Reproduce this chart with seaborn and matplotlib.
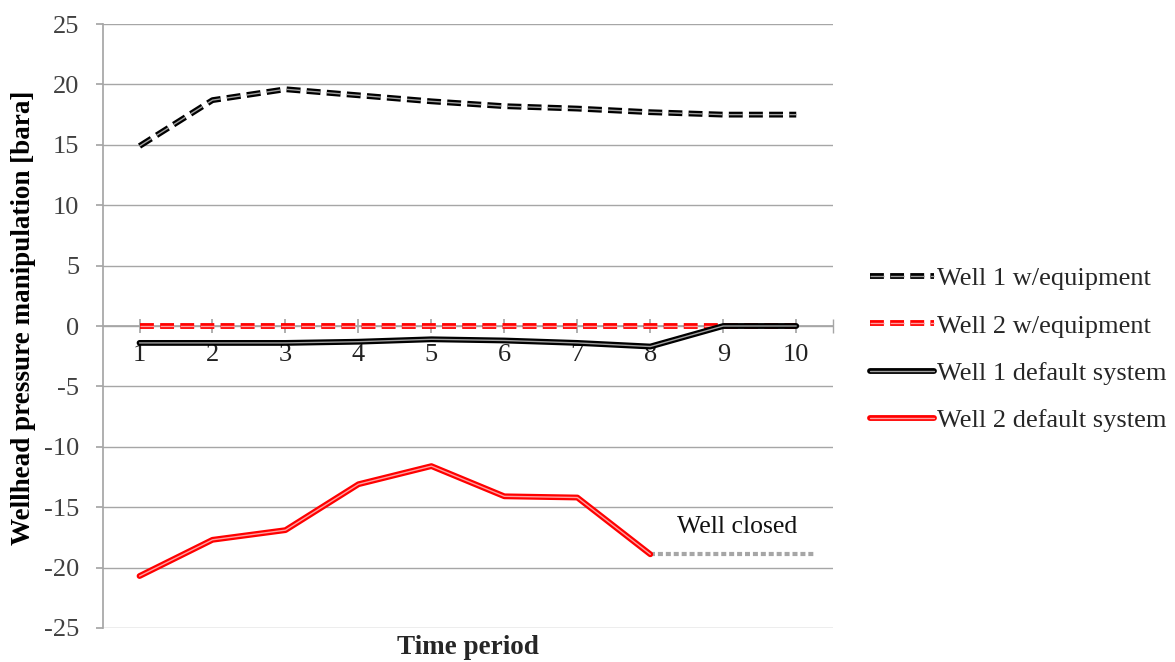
import numpy as np
import pandas as pd
import matplotlib
matplotlib.use("Agg")
import matplotlib.pyplot as plt
import matplotlib.patheffects as pe
from matplotlib.lines import Line2D
import seaborn as sns

periods = [1, 2, 3, 4, 5, 6, 7, 8, 9, 10]
well1_equipment = [14.9, 18.7, 19.6, 19.1, 18.6, 18.2, 18.0, 17.7, 17.5, 17.5]
well2_equipment = [0, 0, 0, 0, 0, 0, 0, 0, 0, 0]
well1_default = [-1.4, -1.4, -1.4, -1.3, -1.1, -1.2, -1.4, -1.7, 0, 0]
well2_default = [-20.7, -17.7, -16.9, -13.1, -11.6, -14.1, -14.2, -18.9, np.nan, np.nan]
closed_x = [8, 10.25]
closed_y = [-18.9, -18.9]
y_ticks = [-25, -20, -15, -10, -5, 0, 5, 10, 15, 20, 25]

sns.set_theme(style="white")
plt.rcParams['font.family'] = ['Liberation Serif', 'DejaVu Serif']

fig = plt.figure(figsize=(11.75, 6.62), dpi=100)
ax = fig.add_axes([0.0877, 0.0514, 0.621, 0.9123])

grid_c = '#A6A6A6'
dash = (0, (10, 4.5))
series = [
    ("Well 1 w/equipment", well1_equipment, 'black', dash, '#a0a0a0'),
    ("Well 2 w/equipment", well2_equipment, '#FF0000', dash, '#ffa0a0'),
    ("Well 1 default system", well1_default, 'black', '-', '#a0a0a0'),
    ("Well 2 default system", well2_default, '#FF0000', '-', '#ffa0a0'),
]

# axes styling first (spine repositioning resets ticks)
for s in ['top', 'right']:
    ax.spines[s].set_visible(False)
ax.spines['left'].set_color(grid_c)
ax.spines['bottom'].set_color(grid_c)
ax.spines['bottom'].set_position(('data', 0))
ax.spines['bottom'].set_zorder(1)

# closed well dotted line
ax.plot(closed_x, closed_y, color='#A6A6A6', lw=3, linestyle=(0, (1.2, 0.7)),
        solid_capstyle='butt', zorder=2)
ax.text(9.185, -16.6, "Well closed", ha='center', va='center', fontsize=18.5, color='#111111')

handles = []
for name, vals, col, ls, inner in series:
    df = pd.DataFrame({"period": periods, "value": vals}).dropna()
    sns.lineplot(data=df, x="period", y="value", ax=ax, color=inner, linestyle=ls,
                 linewidth=1.0, estimator=None, legend=False, zorder=3)
    line = ax.lines[-1]
    line.set_path_effects([pe.Stroke(linewidth=4.2, foreground=col), pe.Normal()])
    line.set_dash_capstyle('butt')
    h = Line2D([0], [0], color=inner, linestyle=ls, linewidth=1.0)
    h.set_path_effects([pe.Stroke(linewidth=4.2, foreground=col), pe.Normal()])
    handles.append((h, name))

ax.set_xlim(0.5, 10.5)
ax.set_ylim(-25, 25)
ax.set_yticks(y_ticks)
ax.set_yticklabels([str(v) for v in y_ticks], fontsize=19, color='#404040')
ax.set_xticks(periods)
ax.set_xticklabels([str(p) for p in periods], fontsize=19, color='#222222')
ax.set_xticks([10.5], minor=True)
ax.grid(axis='y', color=grid_c, linewidth=1)
ax.set_axisbelow(True)

ax.tick_params(axis='y', which='major', direction='out', length=5, color=grid_c, left=True, pad=12)
ax.tick_params(axis='x', which='both', direction='inout', length=10, color=grid_c, bottom=True, pad=8)

ax.set_xlabel("")
ax.set_ylabel("")
fig.text(24 / 1175, 0.52, "Wellhead pressure manipulation [bara]", rotation=90,
         ha='center', va='center', fontsize=19.5, fontweight='bold', color='black')
fig.text(0.398, 0.022, "Time period", ha='center', va='center', fontsize=19.5, fontweight='bold')

leg = fig.legend([h for h, _ in handles], [n for _, n in handles], loc='center left',
                 bbox_to_anchor=(0.720, 0.472), frameon=False, fontsize=19,
                 handlelength=2.45, handletextpad=0.1, labelspacing=0.9)

fig.savefig("out.png", dpi=100)
